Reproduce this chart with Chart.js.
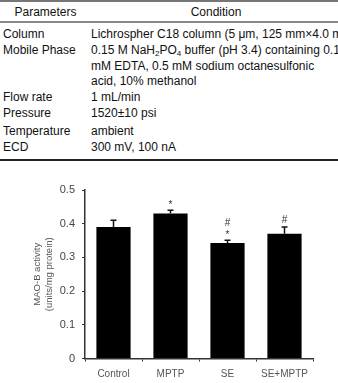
<!DOCTYPE html>
<html>
<head>
<meta charset="utf-8">
<script src="https://cdn.jsdelivr.net/npm/chart.js@4/dist/chart.umd.min.js"></script>
<style>
  html, body { margin: 0; padding: 0; background: #fff; }
  #page { position: relative; width: 338px; height: 383px; overflow: hidden; font-family: "Liberation Sans", Arial, sans-serif; color: #111; }
  .t { position: absolute; font-size: 12px; line-height: 16px; white-space: nowrap; }
  .rule { position: absolute; left: 0; width: 338px; }
  sub { font-size: 8px; vertical-align: -2px; line-height: 0; }
  #chartBox { position: absolute; left: 0; top: 170px; width: 338px; height: 213px; }
</style>
</head>
<body>
<div id="page">
  <div class="rule" style="top:0px;height:1.5px;background:#777;"></div>
  <div class="t" style="left:0;width:91px;text-align:center;top:4px;">Parameters</div>
  <div class="t" style="left:91px;width:250px;text-align:center;top:4px;">Condition</div>
  <div class="rule" style="top:21px;height:1.5px;background:#888;"></div>

  <div class="t" style="left:3px;top:26px;">Column</div>
  <div class="t" style="left:91px;top:26px;">Lichrospher C18 column (5 μm, 125 mm×4.0 mm)</div>

  <div class="t" style="left:3px;top:42px;">Mobile Phase</div>
  <div class="t" style="left:91px;top:42px;">0.15 M NaH<sub>2</sub>PO<sub>4</sub> buffer (pH 3.4) containing 0.1</div>
  <div class="t" style="left:91px;top:57.5px;">mM EDTA, 0.5 mM sodium octanesulfonic</div>
  <div class="t" style="left:91px;top:73px;">acid, 10% methanol</div>

  <div class="t" style="left:3px;top:88.5px;">Flow rate</div>
  <div class="t" style="left:91px;top:88.5px;">1 mL/min</div>

  <div class="t" style="left:3px;top:105px;">Pressure</div>
  <div class="t" style="left:91px;top:105px;">1520±10 psi</div>

  <div class="t" style="left:3px;top:123px;">Temperature</div>
  <div class="t" style="left:91px;top:123px;">ambient</div>

  <div class="t" style="left:3px;top:139px;">ECD</div>
  <div class="t" style="left:91px;top:139px;">300 mV, 100 nA</div>
  <div class="rule" style="top:159px;height:1.5px;background:#222;"></div>

  <div id="chartBox"><canvas id="c" width="338" height="213"></canvas></div>
</div>
<script>
const categories = ['Control', 'MPTP', 'SE', 'SE+MPTP'];
const activity = [0.39, 0.43, 0.343, 0.37];
const errors = [0.02, 0.01, 0.008, 0.02];
const marks = [[], ['*'], ['*', '#'], ['#']];
const yTickLabels = ['0', '0.1', '0.2', '0.3', '0.4', '0.5'];
const yTitle = ['MAO-B activity', '(units/mg protein)'];

const FONT = '"Liberation Sans", Arial, sans-serif';

const errorBarPlugin = {
  id: 'errorBars',
  afterDatasetsDraw(chart) {
    const ctx = chart.ctx;
    const meta = chart.getDatasetMeta(0);
    const y = chart.scales.y;
    ctx.save();
    ctx.strokeStyle = '#111';
    ctx.lineWidth = 1.5;
    meta.data.forEach((bar, i) => {
      const x = bar.x;
      const yBar = y.getPixelForValue(activity[i]);
      const yTop = y.getPixelForValue(activity[i] + errors[i]);
      ctx.beginPath();
      ctx.moveTo(x, yBar);
      ctx.lineTo(x, yTop);
      ctx.moveTo(x - 3, yTop);
      ctx.lineTo(x + 3, yTop);
      ctx.stroke();
      let off = 7;
      marks[i].forEach((m) => {
        ctx.fillStyle = '#333';
        ctx.textAlign = 'center';
        ctx.textBaseline = 'middle';
        if (m === '*') {
          ctx.font = '10px ' + FONT;
          ctx.fillText(m, x, yTop - off + 2.5);
        } else {
          ctx.font = '10px ' + FONT;
          ctx.fillText(m, x, yTop - off);
        }
        off += 9.5;
      });
    });
    ctx.restore();
  }
};

new Chart(document.getElementById('c'), {
  type: 'bar',
  data: {
    labels: categories,
    datasets: [{
      data: activity,
      backgroundColor: '#000',
      borderWidth: 0,
      barPercentage: 0.6,
      categoryPercentage: 1.0
    }]
  },
  options: {
    responsive: false,
    animation: false,
    devicePixelRatio: 1,
    layout: { padding: { left: 0, top: 20, right: 25, bottom: 0 } },
    plugins: { legend: { display: false }, tooltip: { enabled: false } },
    scales: {
      x: {
        grid: { display: true, drawOnChartArea: false, drawTicks: true, tickLength: 3, color: '#333', lineWidth: 1, offset: true },
        border: { display: true, color: '#333', width: 1.5 },
        ticks: { color: '#555', font: { family: FONT, size: 10 }, padding: 7, maxRotation: 0 },
        afterFit(scale) { scale.height = 24.5; }
      },
      y: {
        min: 0,
        max: 0.5,
        grid: { display: true, drawOnChartArea: false, drawTicks: true, tickLength: 3, color: '#333', lineWidth: 1 },
        border: { display: true, color: '#333', width: 1.5 },
        ticks: {
          stepSize: 0.1,
          color: '#444',
          font: { family: FONT, size: 11 },
          padding: 7,
          callback: (v, i) => yTickLabels[i]
        },
        title: {
          display: true,
          text: yTitle,
          color: '#555',
          font: { family: FONT, size: 9.5, lineHeight: 1.3 },
          padding: { top: 31, bottom: 0 }
        },
        afterFit(scale) { scale.width = 85; }
      }
    }
  },
  plugins: [errorBarPlugin]
});
</script>
</body>
</html>
